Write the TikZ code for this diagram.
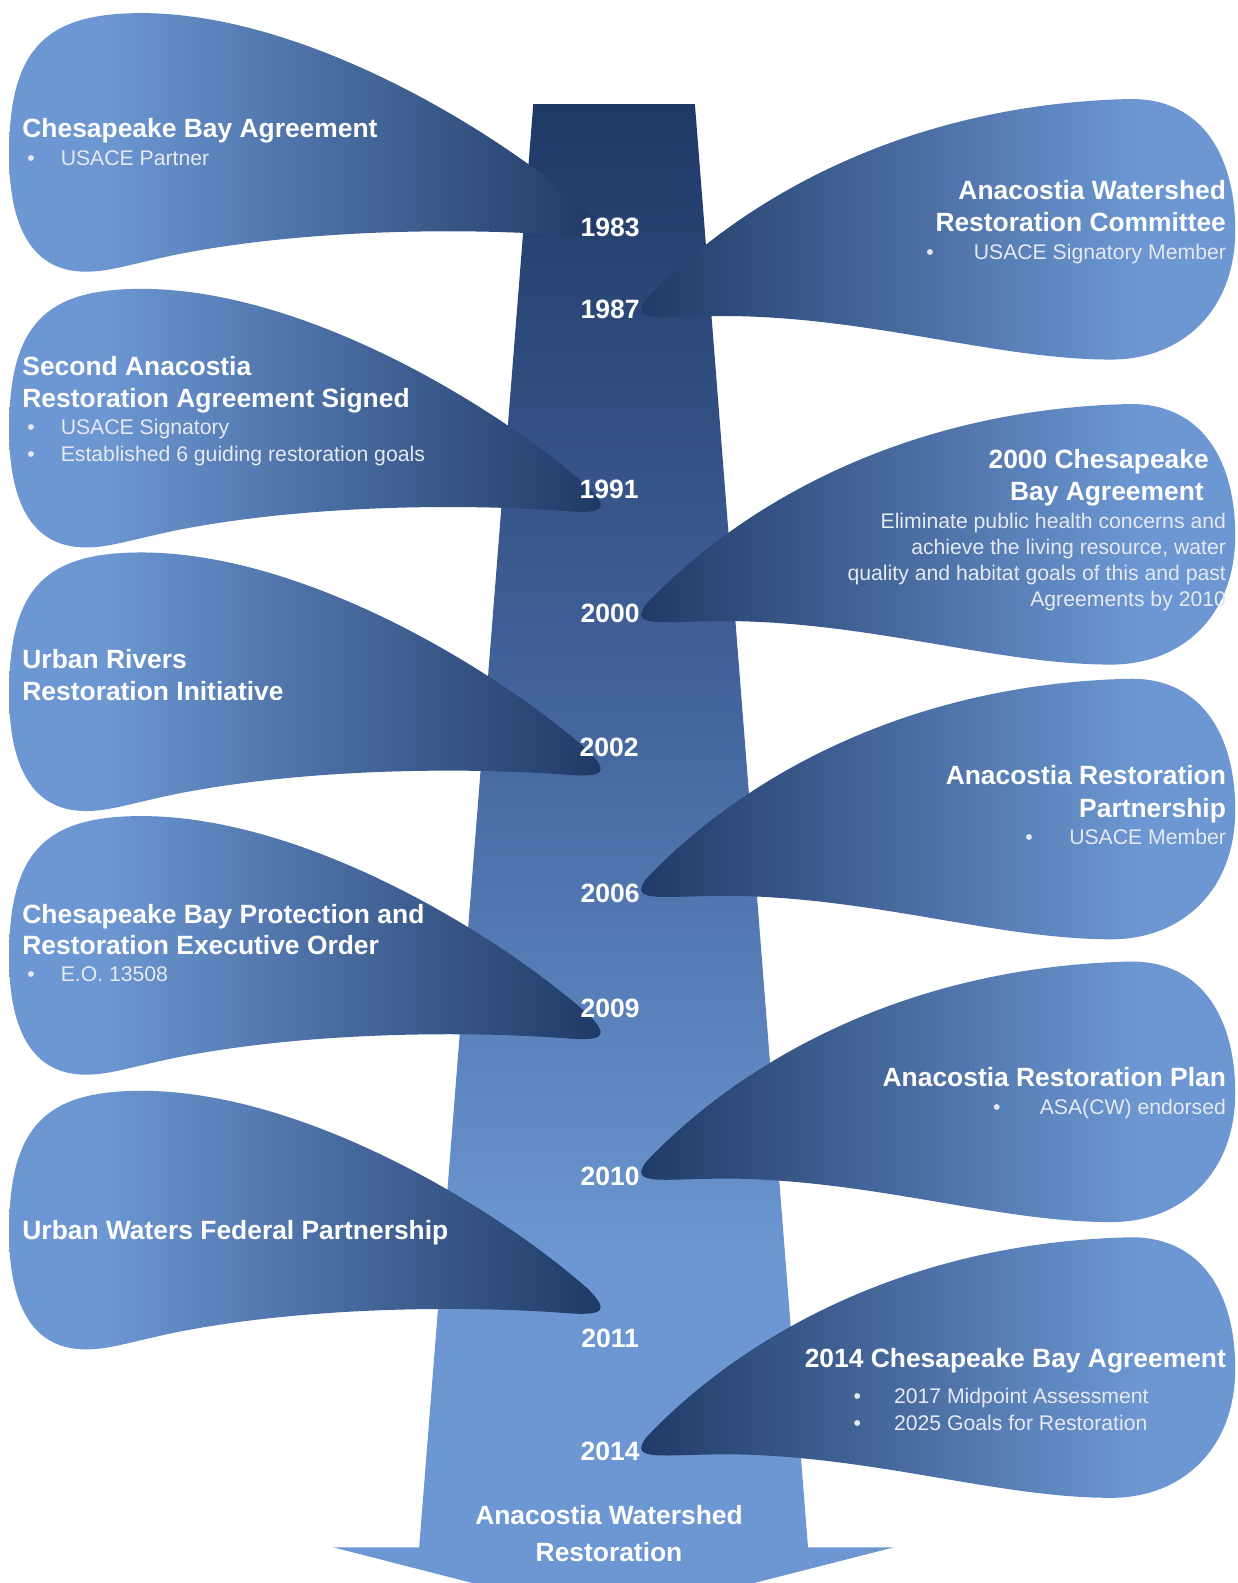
\documentclass[tikz,border=0pt]{standalone}
\usepackage{fontspec}
\setmainfont{Liberation Sans}
\definecolor{lb}{HTML}{6C97D2}
\definecolor{db}{HTML}{1E3864}
\definecolor{adb}{HTML}{1F3966}
\definecolor{amid}{HTML}{41629A}
\definecolor{bodytext}{HTML}{E6E9F0}
\pgfdeclarehorizontalshading{bubL}{100bp}{color(0bp)=(lb); color(33bp)=(lb); color(75bp)=(db); color(100bp)=(db)}
\pgfdeclarehorizontalshading{bubR}{100bp}{color(0bp)=(db); color(25bp)=(db); color(67bp)=(lb); color(100bp)=(lb)}
\pgfdeclareverticalshading{arrowsh}{100bp}{color(0bp)=(lb); color(37bp)=(lb); color(56bp)=(amid); color(75bp)=(adb); color(100bp)=(adb)}
\tikzset{
  title/.style={text=white, font=\bfseries\fontsize{26.4}{31}\selectfont, inner sep=0pt},
  body/.style={text=bodytext, font=\fontsize{21.2}{26}\selectfont, inner sep=0pt},
  year/.style={text=white, font=\bfseries\fontsize{26.5}{30}\selectfont, inner sep=0pt, anchor=base},
  lbub/.pic={
    \path[shading=bubL] (140,0) .. controls (300,0) and (490,115) .. (582,196)
      .. controls (604,218) and (598,223) .. (560,220)
      .. controls (450,212) and (300,215) .. (180,238)
      .. controls (130,248) and (110,256) .. (85,256)
      .. controls (25,256) and (9,200) .. (9,140)
      .. controls (9,35) and (45,0) .. (140,0) -- cycle;
  },
  rbub/.pic={
    \path[shading=bubR] (1120,0) .. controls (1193,0) and (1223,60) .. (1223,130)
      .. controls (1223,210) and (1170,258) .. (1100,258)
      .. controls (990,258) and (870,218) .. (730,215)
      .. controls (660,214) and (620,224) .. (640,198)
      .. controls (728,105) and (890,5) .. (1120,0) -- cycle;
  }
}
\begin{document}
\begin{tikzpicture}[x=1.01pt,y=-1.01pt]
\useasboundingbox (0,0) rectangle (1225.74,1567.33);
\fill[white] (0,0) rectangle (1225.74,1567.33);
\begin{scope}
\clip (0,0) rectangle (1225.74,1567.33);
% main arrow
\path[shading=arrowsh] (528,103) -- (688,103) -- (800,1532) -- (885,1532)
  -- (607,1603) -- (330,1532) -- (415,1532) -- cycle;
% left bubbles
\pic (bl1) at (0,13) {lbub};
\pic (bl2) at (0,286) {lbub};
\pic (bl3) at (0,547) {lbub};
\pic (bl4) at (0,808) {lbub};
\pic (bl5) at (0,1080) {lbub};
% right bubbles
\pic (br1) at (0,98) {rbub};
\pic (br2) at (0,400) {rbub};
\pic (br3) at (0,672) {rbub};
\pic (br4) at (0,952) {rbub};
\pic (br5) at (0,1225) {rbub};
\end{scope}
% left texts
\node (t1a) [title, anchor=base west] at (22,136) {Chesapeake Bay Agreement};
\node (t1d) [body, anchor=base west] at (27,164) {•};
\node (t1b) [body, anchor=base west] at (60,164) {USACE Partner};

\node (t2a) [title, anchor=base west] at (22,372) {Second Anacostia};
\node (t2b) [title, anchor=base west] at (22,403) {Restoration Agreement Signed};
\node (t2d1) [body, anchor=base west] at (27,430) {•};
\node (t2c) [body, anchor=base west] at (60,430) {USACE Signatory};
\node (t2d2) [body, anchor=base west] at (27,457) {•};
\node (t2e) [body, anchor=base west] at (60,457) {Established 6 guiding restoration goals};

\node (t3a) [title, anchor=base west] at (22,662) {Urban Rivers};
\node (t3b) [title, anchor=base west] at (22,694) {Restoration Initiative};

\node (t4a) [title, anchor=base west] at (22,914) {Chesapeake Bay Protection and};
\node (t4b) [title, anchor=base west] at (22,945) {Restoration Executive Order};
\node (t4d) [body, anchor=base west] at (27,972) {•};
\node (t4c) [body, anchor=base west] at (60,972) {E.O. 13508};

\node (t5a) [title, anchor=base west] at (22,1227) {Urban Waters Federal Partnership};

% right texts
\node (r1a) [title, anchor=base east] at (1214,198) {Anacostia Watershed};
\node (r1b) [title, anchor=base east] at (1214,229) {Restoration Committee};
\node (r1d) [body, anchor=base west] at (917,257) {•};
\node (r1c) [body, anchor=base east] at (1214,257) {USACE Signatory Member};

\node (r2a) [title, anchor=base east] at (1197,464) {2000 Chesapeake};
\node (r2b) [title, anchor=base east] at (1192,496) {Bay Agreement};
\node (r2c) [body, anchor=base east] at (1214,523) {Eliminate public health concerns and};
\node (r2e) [body, anchor=base east] at (1214,549) {achieve the living resource, water};
\node (r2f) [body, anchor=base east] at (1214,575) {quality and habitat goals of this and past};
\node (r2g) [body, anchor=base east] at (1214,600) {Agreements by 2010};

\node (r3a) [title, anchor=base east] at (1214,777) {Anacostia Restoration};
\node (r3b) [title, anchor=base east] at (1214,809) {Partnership};
\node (r3d) [body, anchor=base west] at (1015,836) {•};
\node (r3c) [body, anchor=base east] at (1214,836) {USACE Member};

\node (r4a) [title, anchor=base east] at (1214,1076) {Anacostia Restoration Plan};
\node (r4d) [body, anchor=base west] at (983,1103) {•};
\node (r4c) [body, anchor=base east] at (1214,1103) {ASA(CW) endorsed};

\node (r5a) [title, anchor=base east] at (1214,1354) {2014 Chesapeake Bay Agreement};
\node (r5d1) [body, anchor=base west] at (845,1390) {•};
\node (r5b) [body, anchor=base west] at (885,1390) {2017 Midpoint Assessment};
\node (r5d2) [body, anchor=base west] at (845,1416) {•};
\node (r5c) [body, anchor=base west] at (885,1416) {2025 Goals for Restoration};

% years
\node (y1983) [year] at (604,234) {1983};
\node (y1987) [year] at (604,315) {1987};
\node (y1991) [year] at (603,494) {1991};
\node (y2000) [year] at (604,616) {2000};
\node (y2002) [year] at (603,749) {2002};
\node (y2006) [year] at (604,894) {2006};
\node (y2009) [year] at (604,1007) {2009};
\node (y2010) [year] at (604,1174) {2010};
\node (y2011) [year] at (604,1334) {2011};
\node (y2014) [year] at (604,1446) {2014};

% bottom label
\node (end1) [title, anchor=base] at (603,1509) {Anacostia Watershed};
\node (end2) [title, anchor=base] at (603,1546) {Restoration};
\end{tikzpicture}
\end{document}
